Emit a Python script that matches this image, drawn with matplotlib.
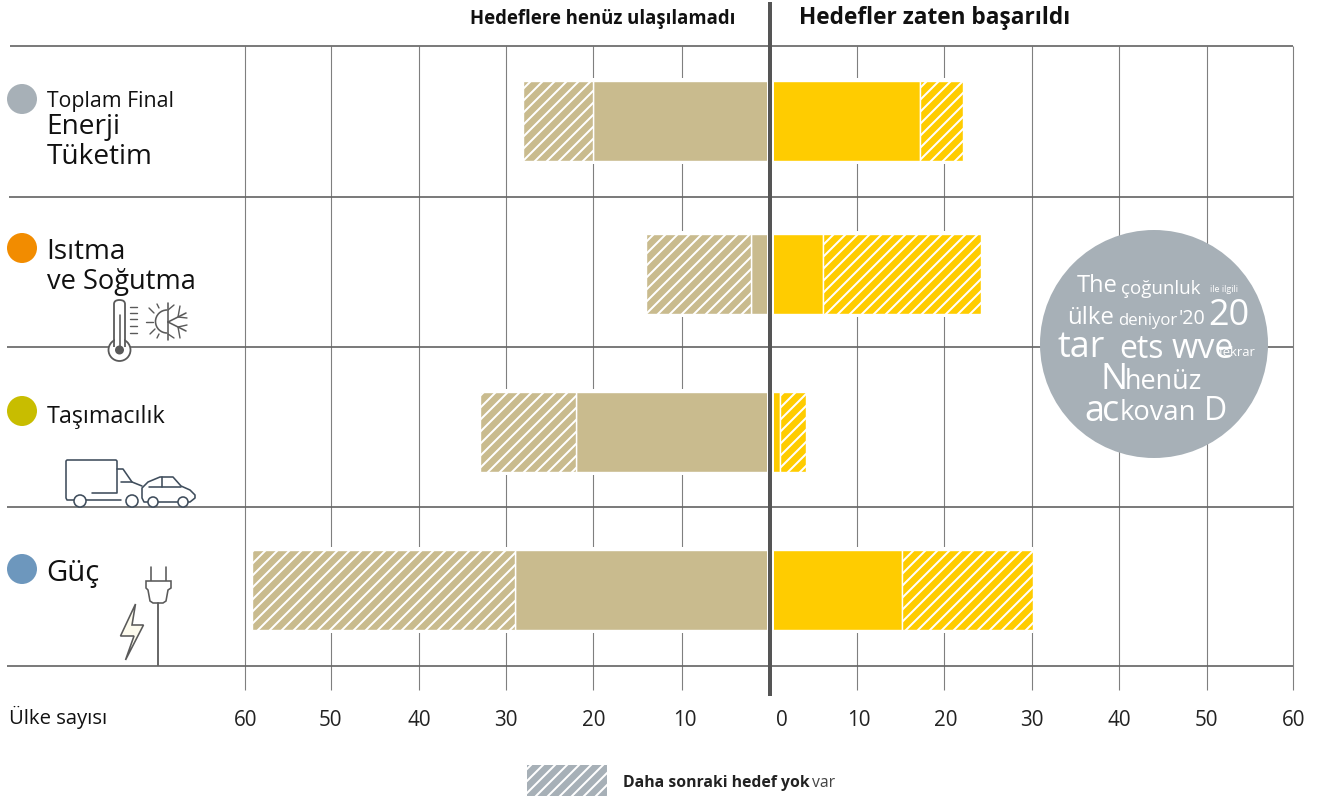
import matplotlib
matplotlib.use("Agg")
import matplotlib.pyplot as plt
from matplotlib.patches import Circle, Polygon, PathPatch, Rectangle, Arc
from matplotlib.path import Path

plt.rcParams['font.family'] = ['Open Sans', 'DejaVu Sans']
plt.rcParams['hatch.linewidth'] = 1.0

W, H, DPI = 1318, 799, 144

# Number of countries per sector
sectors = ['Toplam Final Enerji Tüketim', 'Isıtma ve Soğutma', 'Taşımacılık', 'Güç']
missed_with_next = [20, 2, 22, 29]
missed_no_next = [8, 12, 11, 30]
met_with_next = [17, 6, 1, 15]
met_no_next = [5, 18, 3, 15]

row_centres = [121, 274, 432, 590]
row_rules = [46, 197, 347, 507, 666]
rule_starts = [10, 9, 7, 7, 7]
grid_values = [-60, -50, -40, -30, -20, -10, 10, 20, 30, 40, 50, 60]
grid_nudges = [0, -2, -1, -1, -2, 0, 0, 0, 0, 0, 0, -1]
tick_values = [-60, -50, -40, -30, -20, -10, 0, 10, 20, 30, 40, 50, 60]
tick_nudges = [1, -2, -1, -1, -1, 3, 12, 2, 1, 0, 0, 0, 0]

TAN, YELLOW, GREY = '#c9bb8e', '#ffcc00', '#a7b0b7'
RULE, GRID, CENTRE, ICON = '#666666', '#7f7f7f', '#555555', '#5a5a5a'
BAR_H = 80
PX_PER_UNIT = 8.74
ZERO_PX = 769.5
SPLIT = 1.5 / PX_PER_UNIT  # the two halves sit slightly apart from the zero line
DENSE = '////'


def to_x(px):
    return (px - ZERO_PX) / PX_PER_UNIT


fig = plt.figure(figsize=(W / DPI, H / DPI), dpi=DPI, facecolor='white')
ax = fig.add_axes([0, 0, 1, 1])
ax.set_xlim(to_x(0), to_x(W))
ax.set_ylim(H, 0)
ax.axis('off')

# Grid and row rules
ax.vlines([g + n / PX_PER_UNIT for g, n in zip(grid_values, grid_nudges)], 46, 690,
          color=GRID, lw=0.55, zorder=1)
ax.hlines(row_rules, [to_x(s) for s in rule_starts], 60 - 1 / PX_PER_UNIT, color=RULE, lw=0.85, zorder=1)

# Bars
for y, a, b, c, d in zip(row_centres, missed_with_next, missed_no_next, met_with_next, met_no_next):
    ax.barh(y, -(a + b), left=-SPLIT, height=BAR_H + 6, color='white', lw=0, zorder=2)
    ax.barh(y, c + d, left=SPLIT, height=BAR_H + 6, color='white', lw=0, zorder=2)
    ax.barh(y, -a, left=-SPLIT, height=BAR_H, color=TAN, edgecolor='white', lw=0.7, zorder=3)
    ax.barh(y, -b, left=-a - SPLIT, height=BAR_H, color=TAN, edgecolor='white', lw=0.7, hatch=DENSE, zorder=3)
    ax.barh(y, c, left=SPLIT, height=BAR_H, color=YELLOW, edgecolor='white', lw=0.7, zorder=3)
    ax.barh(y, d, left=c + SPLIT, height=BAR_H, color=YELLOW, edgecolor='white', lw=0.7, hatch=DENSE, zorder=3)
    ax.barh(y, to_x(774) - to_x(767), left=to_x(767), height=BAR_H + 2, color='white', lw=0, zorder=4)

ax.vlines(to_x(770), 2, 696, color=CENTRE, lw=2.0, zorder=5)

# Axis numbers
for t, nudge in zip(tick_values, tick_nudges):
    ax.text(t + nudge / PX_PER_UNIT, 720, str(abs(t)), ha='center', va='center',
            fontsize=10.3, color='#222222')

# Overlay in pixel coordinates for annotation, pictograms and the call-out
ov = fig.add_axes([0, 0, 1, 1], facecolor='none')
ov.set_xlim(0, W)
ov.set_ylim(H, 0)
ov.axis('off')


def label(x, y, s, size, **kw):
    kw.setdefault('color', '#111111')
    ov.text(x, y, s, fontsize=size, va='center', ha=kw.pop('ha', 'left'), **kw)


label(470, 19, 'Hedeflere henüz ulaşılamadı', 9.27, fontweight='bold')
label(799, 18, 'Hedefler zaten başarıldı', 11.33, fontweight='bold')
label(9, 717.5, 'Ülke sayısı', 10.1)

for y, col in zip([99, 248, 411, 569], [GREY, '#f28c00', '#c8bd00', '#6d97bd']):
    ov.add_patch(Circle((22, y), 15, fc=col, ec='none'))

label(47, 101, 'Toplam Final', 10.6)
label(46, 127, 'Enerji', 14)
label(46.5, 157, 'Tüketim', 14)
label(46.5, 252, 'Isıtma', 14)
label(47, 282, 've Soğutma', 13.6)
label(47, 417, 'Taşımacılık', 11.6)
label(46, 573, 'Güç', 14.6)


def line(pts, color=ICON, lw=0.8, z=6):
    xs, ys = zip(*pts)
    ov.plot(xs, ys, color=color, lw=lw, solid_capstyle='round', solid_joinstyle='round', zorder=z)


# Thermometer
tube = Path([(114, 347), (114, 304), (114, 300), (119.5, 300), (125, 300), (125, 304), (125, 347)],
            [Path.MOVETO, Path.LINETO, Path.CURVE3, Path.CURVE3, Path.CURVE3, Path.CURVE3, Path.LINETO])
ov.add_patch(Circle((119.5, 350), 11, fc='white', ec=ICON, lw=0.9, zorder=6))
ov.add_patch(Rectangle((115, 338), 9, 12, fc='white', ec='none', zorder=6))
ov.add_patch(PathPatch(tube, fc='none', ec=ICON, lw=0.9, zorder=6))
ov.add_patch(Circle((119.5, 350), 4.5, fc=ICON, ec='none', zorder=7))
line([(119.5, 315), (119.5, 350)])
for y in [307, 313, 319, 326, 333]:
    line([(130, y), (136.5, y)], lw=0.7)

# Sun and snowflake
ov.add_patch(Arc((167, 321.5), 23, 23, theta1=90, theta2=270, ec=ICON, lw=0.8, zorder=6))
for p, q in [((146, 322), (153, 322)), ((149, 308), (154, 313)), ((150, 334), (155, 329)),
             ((157, 304), (159, 308)), ((157, 338), (159, 334))]:
    line([p, q], lw=0.7)
line([(168, 303), (168, 340)])
line([(168, 322), (186, 313)])
line([(168, 322), (186, 331)])
line([(180, 306), (178, 317), (187, 318)], lw=0.7)
line([(180, 338), (178, 327), (187, 325)], lw=0.7)
line([(168, 310), (174, 305)], lw=0.7)
line([(168, 334), (174, 338)], lw=0.7)

# Truck and car
TRUCK = '#3f4d5c'
line([(74, 500), (67, 500), (66, 498), (66, 461), (67, 460), (116, 460), (117, 461), (117, 493), (92, 493)], TRUCK)
line([(86, 500), (121, 500)], TRUCK)
line([(117, 469), (123, 469), (132, 482), (142, 486)], TRUCK)
line([(121, 482), (132, 482)], TRUCK)
line([(148, 502), (144, 502), (142, 498), (142, 488), (148, 482), (160, 477), (173, 477), (181, 486),
      (190, 490), (195, 495), (195, 498), (190, 502), (188, 502)], TRUCK)
line([(158, 502), (178, 502)], TRUCK)
line([(149, 487), (181, 487)], TRUCK)
line([(162, 477), (162, 487)], TRUCK)
for cx, cy, r in [(80, 501, 6), (132, 501, 6), (153, 502, 5), (183, 502, 5)]:
    ov.add_patch(Circle((cx, cy), r, fc='white', ec=TRUCK, lw=0.8, zorder=7))

# Plug and lightning bolt
line([(151, 567), (151, 581)])
line([(166, 567), (166, 581)])
ov.add_patch(Polygon([(146, 581), (171, 581), (171, 588), (168, 590), (166, 601), (163, 603), (153, 603),
                      (150, 601), (148, 590), (146, 588)], closed=True, fc='white', ec=ICON, lw=0.8, zorder=6))
line([(158, 603), (158, 665)], lw=0.9)
ov.add_patch(Polygon([(135.5, 604), (120.5, 636), (134, 636), (125.5, 660), (143.5, 625), (132, 625)],
                     closed=True, fc='#fdfbee', ec=ICON, lw=0.8, zorder=6))

# Call-out bubble
ov.add_patch(Circle((1154, 344), 114, fc=GREY, ec='none', zorder=8))
callout_words = [
    (1077, 286, 'The', 11.8),
    (1121, 289, 'çoğunluk', 9.4),
    (1210, 289, 'ile ilgili', 4.5),
    (1067, 318, 'ülke', 12),
    (1118, 321, 'deniyor', 8.4),
    (1178, 319, "'20", 9.8),
    (1208, 316, '20', 18),
    (1058, 348, 'tar', 18),
    (1119, 349, 'ets', 16),
    (1172, 349, 'wve', 17),
    (1219, 352, 'tekrar', 6.5),
    (1100, 380, 'N', 18),
    (1125, 382, 'henüz', 13.5),
    (1084, 412, 'a', 18),
    (1102, 412, 'c', 18),
    (1120, 413, 'kovan', 13.7),
    (1204, 411, 'D', 16),
]
for x, y, word, size in callout_words:
    ov.text(x, y, word, fontsize=size, color='white', va='center', ha='left', zorder=9)

# Legend
ov.add_patch(Rectangle((526, 764), 81, 32, fc=GREY, ec='white', lw=0.5, hatch=DENSE, zorder=6))
ov.text(623, 783, 'Daha sonraki hedef yok', fontsize=7.9, fontweight='bold',
        va='center', color='#222222')
ov.text(812, 783, 'var', fontsize=7.9, va='center', color='#444444')

fig.savefig('out.png', dpi=DPI, facecolor='white')
